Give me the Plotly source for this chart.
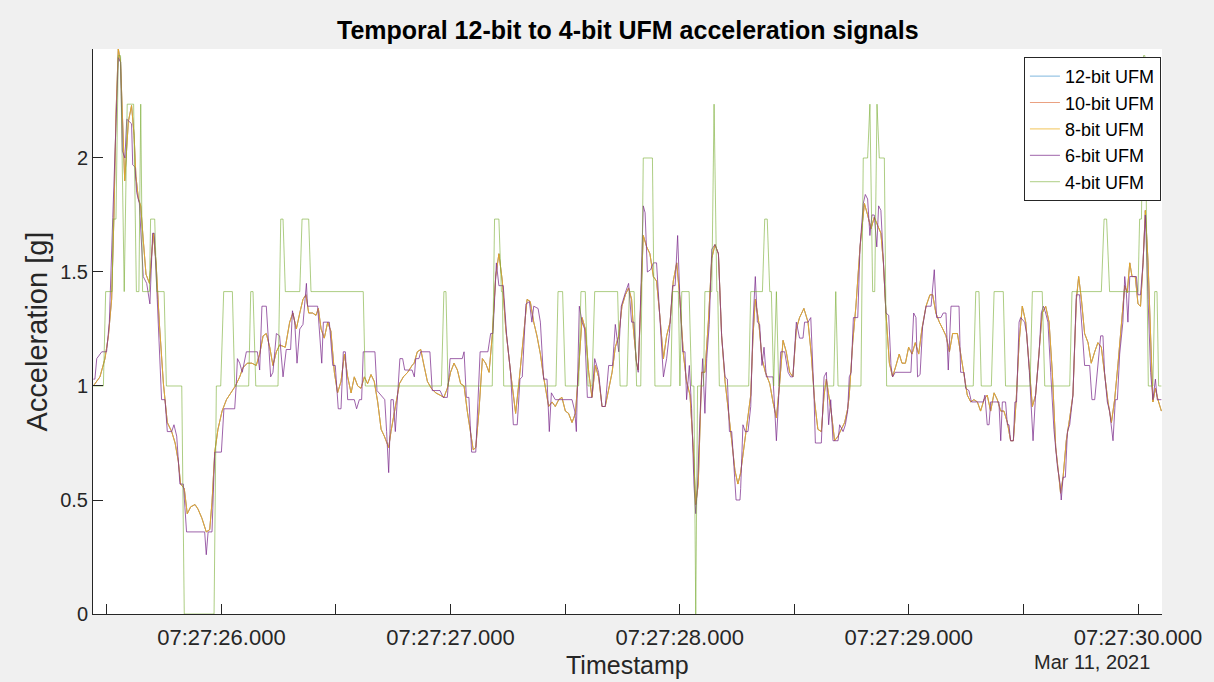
import plotly.graph_objects as go

DATE = "2021-03-11 07:27:"

# ---- 12/10/8-bit UFM (seconds after 07:27:00, acceleration in g) ----
t_hi = [
    25.441, 25.470, 25.492, 25.507, 25.521, 25.531, 25.540, 25.550, 25.560, 25.568, 25.574, 25.578, 25.594, 25.608, 25.619, 25.627, 25.638, 25.648, 25.659, 25.671, 25.686, 25.703, 25.715, 25.729, 25.747, 25.764, 25.783, 25.798, 25.812, 25.822, 25.838, 25.851, 25.866, 25.885,
    25.898, 25.915, 25.934, 25.949, 25.959, 25.971, 25.985, 26.003, 26.022, 26.043, 26.061, 26.080, 26.094, 26.113, 26.133, 26.152, 26.167, 26.182, 26.196, 26.211, 26.225, 26.240, 26.254, 26.279, 26.298, 26.312, 26.327, 26.342, 26.356,
    26.369, 26.381, 26.398, 26.413, 26.423, 26.435, 26.449, 26.464, 26.478, 26.493, 26.507, 26.522, 26.537, 26.551, 26.566, 26.580, 26.595, 26.609, 26.624, 26.638, 26.653, 26.667, 26.682, 26.697, 26.711, 26.730, 26.740, 26.755, 26.777, 26.794, 26.813, 26.832,
    26.841, 26.855, 26.870, 26.884, 26.899, 26.916, 26.935, 26.954, 26.971, 26.986, 27.000, 27.015, 27.030, 27.044, 27.059, 27.073, 27.088, 27.099, 27.110, 27.124, 27.139, 27.153, 27.168, 27.182, 27.197, 27.211, 27.226, 27.241, 27.262, 27.284, 27.299,
    27.312, 27.334, 27.348, 27.363, 27.377, 27.392, 27.406, 27.428, 27.443, 27.457, 27.472, 27.486, 27.501, 27.515, 27.530, 27.545, 27.559, 27.574, 27.588, 27.603, 27.617, 27.632, 27.646, 27.661, 27.675, 27.690, 27.705, 27.719, 27.734, 27.748, 27.763, 27.777,
    27.790, 27.798, 27.812, 27.819, 27.831, 27.841, 27.856, 27.870, 27.885, 27.899, 27.914, 27.929, 27.943, 27.958, 27.972, 27.987, 28.001, 28.016, 28.030, 28.045, 28.059, 28.070, 28.081, 28.096, 28.110, 28.125, 28.140, 28.154, 28.169, 28.183, 28.198, 28.212, 28.227, 28.241,
    28.254, 28.266, 28.281, 28.295, 28.310, 28.320, 28.330, 28.345, 28.359, 28.374, 28.393, 28.407, 28.422, 28.436, 28.451, 28.465, 28.480, 28.494, 28.509, 28.523, 28.542, 28.560, 28.574, 28.589, 28.603, 28.618, 28.630, 28.640, 28.650, 28.662, 28.676, 28.691, 28.705, 28.720,
    28.733, 28.740, 28.755, 28.769, 28.787, 28.806, 28.820, 28.835, 28.849, 28.864, 28.878, 28.889, 28.900, 28.915, 28.929, 28.944, 28.958, 28.970, 28.985, 28.999, 29.014, 29.028, 29.043, 29.057, 29.075, 29.092, 29.104, 29.118, 29.133, 29.148, 29.162, 29.177, 29.191,
    29.212, 29.226, 29.241, 29.255, 29.270, 29.284, 29.299, 29.313, 29.328, 29.342, 29.357, 29.372, 29.386, 29.401, 29.415, 29.430, 29.444, 29.456, 29.468, 29.481, 29.495, 29.510, 29.524, 29.539, 29.553, 29.568, 29.582, 29.597, 29.612, 29.626, 29.641, 29.655,
    29.662, 29.673, 29.687, 29.702, 29.716, 29.731, 29.741, 29.753, 29.767, 29.782, 29.796, 29.811, 29.825, 29.840, 29.854, 29.869, 29.884, 29.898, 29.913, 29.927, 29.942, 29.953, 29.964, 29.974, 29.988, 30.000, 30.011, 30.022, 30.032, 30.044, 30.055, 30.065, 30.076, 30.087, 30.102,
]
ufm12 = [
    1.00, 1.04, 1.12, 1.22, 1.38, 1.74, 2.19, 2.48, 2.42, 2.19, 1.98, 1.90, 2.16, 2.23, 2.10, 1.92, 1.82, 1.79, 1.64, 1.49, 1.45, 1.67, 1.54, 1.28, 1.01, 0.84, 0.80, 0.75, 0.67, 0.57, 0.55, 0.44, 0.47, 0.48,
    0.46, 0.42, 0.36, 0.37, 0.49, 0.71, 0.81, 0.89, 0.94, 0.97, 1.00, 1.04, 1.08, 1.10, 1.10, 1.09, 1.14, 1.22, 1.23, 1.17, 1.09, 1.15, 1.18, 1.17, 1.28, 1.32, 1.25, 1.32, 1.38,
    1.40, 1.32, 1.32, 1.31, 1.34, 1.25, 1.21, 1.28, 1.24, 1.06, 0.97, 1.02, 1.14, 1.04, 0.97, 1.04, 1.00, 0.99, 1.04, 1.01, 1.05, 1.02, 0.93, 0.81, 0.78, 0.73, 0.80, 0.89, 1.01, 1.04, 1.06, 1.09,
    1.10, 1.15, 1.16, 1.09, 1.02, 0.99, 0.97, 0.96, 0.95, 0.99, 1.06, 1.10, 1.07, 1.01, 1.00, 0.89, 0.80, 0.72, 0.73, 0.89, 1.12, 1.10, 1.06, 1.22, 1.48, 1.58, 1.46, 1.25, 1.06, 0.88, 1.02,
    1.15, 1.38, 1.37, 1.28, 1.22, 1.14, 1.04, 0.91, 0.93, 0.91, 0.94, 0.95, 0.89, 0.88, 0.84, 0.88, 1.07, 1.30, 1.25, 1.06, 0.95, 1.09, 1.04, 0.91, 0.91, 0.99, 1.06, 1.17, 1.22, 1.35, 1.40, 1.43,
    1.38, 1.25, 1.10, 1.07, 1.38, 1.66, 1.61, 1.58, 1.48, 1.46, 1.30, 1.12, 1.22, 1.28, 1.46, 1.54, 1.38, 1.14, 1.02, 0.96, 0.73, 0.48, 0.57, 1.06, 1.06, 1.28, 1.56, 1.62, 1.58, 1.22, 1.02, 0.88, 0.76, 0.63,
    0.57, 0.62, 0.73, 0.83, 0.96, 1.22, 1.38, 1.28, 1.12, 1.06, 1.01, 0.93, 0.86, 1.01, 1.20, 1.15, 1.06, 1.04, 1.25, 1.30, 1.34, 1.28, 1.14, 0.93, 0.81, 0.80, 0.96, 1.03, 0.97, 0.88, 0.76, 0.78, 0.81, 0.84,
    0.90, 0.96, 1.19, 1.35, 1.61, 1.80, 1.75, 1.69, 1.74, 1.70, 1.67, 1.54, 1.32, 1.10, 1.04, 1.09, 1.14, 1.10, 1.10, 1.17, 1.14, 1.19, 1.14, 1.25, 1.35, 1.40, 1.40, 1.32, 1.28, 1.25, 1.22, 1.15, 1.23,
    1.23, 1.14, 1.06, 0.96, 0.93, 0.94, 0.93, 0.89, 0.94, 0.96, 0.89, 0.97, 0.94, 0.89, 0.89, 0.84, 0.76, 0.76, 0.93, 1.19, 1.35, 1.28, 1.10, 0.91, 0.96, 1.15, 1.32, 1.35, 1.28, 1.06, 0.73, 0.60,
    0.53, 0.60, 0.76, 0.86, 0.96, 1.38, 1.48, 1.38, 1.23, 1.19, 1.10, 1.15, 1.19, 1.17, 1.06, 0.93, 0.84, 0.94, 1.10, 1.25, 1.44, 1.41, 1.54, 1.48, 1.48, 1.36, 1.35, 1.54, 1.77, 1.54, 1.22, 0.93, 0.99, 0.94, 0.89,
]
# the 10-bit and 8-bit curves coincide with the 12-bit one at this resolution
ufm10 = list(ufm12)
ufm8 = list(ufm12)

# ---- 6-bit UFM ----
t_6 = [
    25.441, 25.448, 25.456, 25.478, 25.499, 25.511, 25.526, 25.550, 25.560, 25.568, 25.579, 25.587, 25.608, 25.613, 25.623, 25.630, 25.642, 25.659, 25.674, 25.688, 25.700, 25.707, 25.720, 25.739, 25.754, 25.764, 25.783, 25.793, 25.805, 25.819, 25.834, 25.848,
    25.927, 25.934, 25.942, 25.959, 25.971, 26.000, 26.011, 26.058, 26.065, 26.070, 26.080, 26.091, 26.109, 26.157, 26.167, 26.177, 26.196, 26.215, 26.225, 26.240, 26.254, 26.269, 26.283, 26.302, 26.310, 26.320, 26.330, 26.342, 26.356, 26.371,
    26.376, 26.420, 26.438, 26.445, 26.471, 26.486, 26.497, 26.510, 26.522, 26.532, 26.541, 26.551, 26.580, 26.590, 26.602, 26.612, 26.619, 26.670, 26.679, 26.713, 26.721, 26.730, 26.740, 26.750, 26.759, 26.769, 26.779, 26.791, 26.800, 26.832,
    26.842, 26.848, 26.862, 26.870, 26.910, 26.920, 26.954, 26.968, 26.986, 26.998, 27.051, 27.059, 27.069, 27.080, 27.092, 27.110, 27.129, 27.163, 27.175, 27.185, 27.200, 27.211, 27.230, 27.245, 27.262, 27.274, 27.291, 27.303,
    27.313, 27.329, 27.344, 27.355, 27.363, 27.382, 27.392, 27.406, 27.421, 27.431, 27.440, 27.457, 27.530, 27.542, 27.549, 27.562, 27.574, 27.585, 27.597, 27.617, 27.629, 27.646, 27.661, 27.675, 27.690, 27.707, 27.719, 27.734, 27.745, 27.763, 27.777,
    27.790, 27.801, 27.809, 27.819, 27.830, 27.841, 27.849, 27.859, 27.873, 27.885, 27.899, 27.914, 27.929, 27.943, 27.955, 27.969, 27.980, 27.991, 28.001, 28.013, 28.023, 28.030, 28.042, 28.052, 28.062, 28.070, 28.078, 28.089, 28.100, 28.110, 28.118, 28.129, 28.140, 28.154, 28.169, 28.183, 28.198, 28.208, 28.217, 28.227, 28.237, 28.246,
    28.263, 28.266, 28.276, 28.286, 28.298, 28.310, 28.320, 28.330, 28.339, 28.349, 28.359, 28.368, 28.378, 28.407, 28.414, 28.422, 28.429, 28.441, 28.458, 28.473, 28.484, 28.494, 28.509, 28.523, 28.538, 28.545, 28.560, 28.572, 28.586, 28.592, 28.618, 28.630, 28.640, 28.650, 28.659, 28.669, 28.691, 28.698, 28.713, 28.723,
    28.733, 28.740, 28.748, 28.758, 28.777, 28.787, 28.801, 28.810, 28.820, 28.830, 28.839, 28.849, 28.860, 28.868, 28.878, 28.889, 28.900, 28.912, 28.922, 28.929, 28.941, 29.009, 29.021, 29.031, 29.038, 29.049, 29.060, 29.075, 29.097, 29.111, 29.121, 29.140, 29.150, 29.162, 29.172, 29.184,
    29.219, 29.226, 29.241, 29.248, 29.262, 29.273, 29.325, 29.332, 29.342, 29.350, 29.357, 29.393, 29.401, 29.408, 29.422, 29.430, 29.437, 29.444, 29.456, 29.463, 29.470, 29.481, 29.488, 29.505, 29.514, 29.526, 29.532, 29.542, 29.553, 29.568, 29.578, 29.587, 29.597, 29.607, 29.619, 29.633, 29.648, 29.660,
    29.665, 29.673, 29.683, 29.692, 29.702, 29.716, 29.731, 29.745, 29.756, 29.767, 29.789, 29.799, 29.811, 29.825, 29.837, 29.847, 29.854, 29.866, 29.876, 29.891, 29.901, 29.910, 29.920, 29.934, 29.942, 29.949, 29.956, 29.964, 29.993, 30.000, 30.011, 30.022, 30.032, 30.044, 30.055, 30.065, 30.076, 30.084, 30.102,
]
ufm6 = [
    1.03, 1.03, 1.12, 1.15, 1.15, 1.28, 1.74, 2.44, 2.42, 2.03, 2.00, 2.17, 2.15, 1.97, 1.96, 1.85, 1.80, 1.48, 1.45, 1.36, 1.67, 1.67, 1.38, 0.94, 0.94, 0.80, 0.80, 0.83, 0.78, 0.57, 0.57, 0.36,
    0.36, 0.26, 0.36, 0.36, 0.71, 0.71, 0.90, 0.90, 1.01, 1.12, 1.10, 1.06, 1.15, 1.15, 1.07, 1.35, 1.35, 1.04, 1.06, 1.23, 1.22, 1.04, 1.16, 1.16, 1.33, 1.28, 1.10, 1.25, 1.27, 1.45,
    1.35, 1.35, 1.10, 1.28, 1.28, 1.09, 1.09, 0.90, 0.90, 1.15, 1.15, 0.94, 0.94, 0.90, 0.94, 0.94, 1.15, 1.15, 0.98, 0.94, 0.80, 0.62, 0.94, 0.94, 0.80, 0.94, 1.12, 1.12, 1.07, 1.07,
    1.04, 1.12, 1.12, 1.15, 1.15, 0.98, 0.98, 0.95, 0.95, 1.12, 1.12, 1.15, 0.95, 0.95, 0.71, 0.71, 1.15, 1.15, 1.23, 1.23, 1.54, 1.44, 1.44, 1.22, 1.06, 0.83, 0.83, 1.03,
    1.04, 1.36, 1.37, 1.28, 1.35, 1.34, 1.28, 1.03, 1.03, 0.80, 0.97, 0.94, 0.94, 0.89, 0.80, 1.35, 1.28, 1.25, 0.95, 0.95, 1.12, 1.06, 0.91, 0.91, 1.09, 1.09, 1.27, 1.15, 1.35, 1.41, 1.45,
    1.28, 1.28, 1.12, 1.06, 1.40, 1.79, 1.76, 1.50, 1.51, 1.54, 1.54, 1.30, 1.04, 1.12, 1.23, 1.44, 1.44, 1.66, 1.38, 1.15, 1.15, 0.94, 1.09, 0.90, 0.57, 0.44, 0.57, 0.88, 1.12, 0.88, 1.12, 1.27, 1.60, 1.62, 1.58, 1.22, 1.04, 1.03, 0.80, 0.80, 0.62, 0.50,
    0.50, 0.55, 0.83, 0.80, 0.80, 0.91, 1.28, 1.48, 1.28, 1.27, 1.09, 1.17, 1.04, 1.04, 0.91, 0.76, 0.89, 1.15, 1.15, 1.06, 1.04, 1.04, 1.28, 1.21, 1.21, 1.28, 1.28, 1.30, 0.96, 0.75, 0.75, 1.04, 1.06, 0.83, 0.94, 0.76, 0.76, 0.83, 0.80, 0.83,
    0.89, 1.04, 1.06, 1.30, 1.30, 1.61, 1.80, 1.84, 1.82, 1.66, 1.75, 1.75, 1.61, 1.79, 1.77, 1.54, 1.32, 1.31, 1.09, 1.04, 1.06, 1.06, 1.32, 1.30, 1.04, 1.05, 1.26, 1.35, 1.35, 1.51, 1.30, 1.30, 1.32, 1.32, 1.07, 1.35,
    1.35, 1.06, 1.06, 0.99, 0.98, 0.93, 0.93, 0.96, 0.83, 0.83, 0.93, 0.93, 0.76, 0.93, 0.93, 0.83, 0.83, 0.76, 0.76, 0.93, 0.93, 1.28, 1.30, 1.28, 1.23, 1.06, 0.96, 0.76, 0.96, 1.14, 1.32, 1.35, 1.32, 1.28, 1.06, 0.81, 0.65, 0.57,
    0.50, 0.60, 0.60, 0.80, 0.83, 0.96, 1.40, 1.40, 1.25, 1.09, 1.09, 0.94, 0.94, 1.11, 1.22, 1.22, 1.06, 0.93, 0.89, 0.76, 0.94, 0.94, 1.14, 1.28, 1.48, 1.41, 1.28, 1.48, 1.48, 1.40, 1.40, 1.54, 1.75, 1.38, 1.06, 0.94, 1.03, 0.94, 0.94,
]

# ---- 4-bit UFM ----
t_4 = [
    25.441, 25.485, 25.495, 25.523, 25.528, 25.540, 25.550, 25.560, 25.576, 25.589,
    25.617, 25.629, 25.640, 25.648, 25.656, 25.686, 25.691, 25.709, 25.718, 25.750,
    25.760, 25.827, 25.838, 25.968, 25.978, 25.997, 26.010, 26.048, 26.058, 26.119,
    26.128, 26.138, 26.150, 26.247, 26.259, 26.269, 26.279, 26.342, 26.352, 26.381,
    26.391, 26.619, 26.628, 26.960, 26.971, 26.980, 26.989, 27.182, 27.192, 27.211,
    27.222, 27.226, 27.232, 27.460, 27.469, 27.489, 27.501, 27.559, 27.569, 27.588,
    27.600, 27.617, 27.629, 27.729, 27.740, 27.770, 27.780, 27.801, 27.812, 27.830,
    27.841, 27.881, 27.892, 27.961, 27.969, 27.994, 28.001, 28.009, 28.041, 28.052,
    28.062, 28.070, 28.078, 28.104, 28.110, 28.140, 28.150, 28.162, 28.166, 28.173,
    28.301, 28.310, 28.361, 28.371, 28.382, 28.393, 28.400, 28.410, 28.422, 28.432,
    28.672, 28.681, 28.691, 28.791, 28.801, 28.820, 28.830, 28.842, 28.851, 28.861,
    28.871, 28.893, 28.903, 29.281, 29.292, 29.306, 29.316, 29.360, 29.372, 29.412,
    29.422, 29.529, 29.539, 29.582, 29.593, 29.702, 29.712, 29.840, 29.852, 29.863,
    29.876, 30.000, 30.007, 30.015, 30.024, 30.030, 30.040, 30.045, 30.065, 30.073,
    30.083, 30.090, 30.102,
]
ufm4 = [
    1.0, 1.0, 1.414, 1.414, 1.732, 1.732, 2.449, 2.449, 1.414, 2.236,
    2.236, 1.414, 1.414, 2.236, 1.414, 1.414, 1.732, 1.732, 1.414, 1.414,
    1.0, 1.0, 0.0, 0.0, 1.0, 1.0, 1.414, 1.414, 1.0, 1.0,
    1.414, 1.414, 1.0, 1.0, 1.732, 1.732, 1.414, 1.414, 1.732, 1.732,
    1.414, 1.414, 1.0, 1.0, 1.414, 1.414, 1.0, 1.0, 1.732, 1.732,
    1.414, 1.414, 1.0, 1.0, 1.414, 1.414, 1.0, 1.0, 1.414, 1.414,
    1.0, 1.0, 1.414, 1.414, 1.0, 1.0, 1.414, 1.414, 1.0, 1.0,
    2.0, 2.0, 1.0, 1.0, 1.414, 1.414, 1.0, 1.414, 1.414, 1.0,
    1.0, 0.0, 1.0, 1.0, 1.414, 1.414, 2.236, 1.414, 1.414, 1.0,
    1.0, 1.414, 1.414, 1.732, 1.732, 1.414, 1.414, 1.0, 1.414, 1.0,
    1.0, 1.414, 1.0, 1.0, 2.0, 2.0, 2.236, 1.414, 1.414, 2.236,
    2.0, 2.0, 1.0, 1.0, 1.414, 1.414, 1.0, 1.0, 1.414, 1.414,
    1.0, 1.0, 1.414, 1.414, 1.0, 1.0, 1.414, 1.414, 1.732, 1.732,
    1.414, 1.414, 1.732, 1.732, 2.449, 2.449, 1.414, 1.0, 1.0, 1.414,
    1.414, 1.0, 1.0,
]

series_names = ["12-bit UFM", "10-bit UFM", "8-bit UFM", "6-bit UFM", "4-bit UFM"]
series_colors = ["rgba(0,114,189,0.5)", "rgba(217,83,25,0.55)", "rgba(237,177,32,0.75)",
                 "rgba(126,47,142,0.75)", "rgba(119,172,48,0.6)"]

y_ticks = [0, 0.5, 1, 1.5, 2]
y_ticktext = ["0", "0.5", "1", "1.5", "2"]
x_tick_secs = [25.5, 26.0, 26.5, 27.0, 27.5, 28.0, 28.5, 29.0, 29.5, 30.0]
x_ticktext = ["", "07:27:26.000", "", "07:27:27.000", "", "07:27:28.000", "",
              "07:27:29.000", "", "07:27:30.000"]

for a, b, n in [(t_hi, ufm12, "hi"), (t_6, ufm6, "6"), (t_4, ufm4, "4")]:
    assert len(a) == len(b), (n, len(a), len(b))


def ts(secs):
    return [f"{DATE}{s:06.3f}" for s in secs]


FONT = "Liberation Sans, Arial, Helvetica, sans-serif"

fig = go.Figure()
data = [(t_hi, ufm12), (t_hi, ufm10), (t_hi, ufm8), (t_6, ufm6), (t_4, ufm4)]
for (tt, vv), name, col in zip(data, series_names, series_colors):
    fig.add_trace(go.Scatter(x=ts(tt), y=vv, mode="lines", name=name,
                             line=dict(color=col, width=1)))

fig.update_layout(
    width=1214, height=682,
    margin=dict(l=93, r=52, t=49, b=68),
    paper_bgcolor="#f0f0f0", plot_bgcolor="white",
    font=dict(family=FONT, color="#262626", size=20),
    showlegend=True,
    legend=dict(x=0.999, xanchor="right", y=0.986, yanchor="top",
                bgcolor="white", bordercolor="#262626", borderwidth=1,
                font=dict(family=FONT, size=18, color="black"),
                tracegroupgap=0, itemwidth=30),
    xaxis=dict(
        type="date",
        range=[f"{DATE}25.4397", f"{DATE}30.1047"],
        tickvals=ts(x_tick_secs), ticktext=x_ticktext,
        ticks="inside", ticklen=10, tickcolor="#262626",
        showline=True, linecolor="#262626", linewidth=1,
        showgrid=False, zeroline=False, mirror=False,
        ticklabelstandoff=4,
        tickfont=dict(family=FONT, size=22, color="#262626"),
    ),
    yaxis=dict(
        range=[0, 2.478],
        tickvals=y_ticks, ticktext=y_ticktext,
        ticks="inside", ticklen=10, tickcolor="#262626",
        showline=True, linecolor="#262626", linewidth=1,
        showgrid=False, zeroline=False, mirror=False,
        tickfont=dict(family=FONT, size=20, color="#262626"),
    ),
    annotations=[
        dict(text="<b>Temporal 12-bit to 4-bit UFM acceleration signals</b>",
             xref="paper", yref="paper", x=0.5, y=1.0336, xanchor="center", yanchor="middle",
             showarrow=False, font=dict(family=FONT, size=25, color="black")),
        dict(text="Acceleration [g]", xref="paper", yref="paper", x=-0.0524, y=0.5,
             xanchor="center", yanchor="middle", textangle=-90, showarrow=False,
             font=dict(family=FONT, size=29, color="#262626")),
        dict(text="Timestamp", xref="paper", yref="paper", x=0.5, y=-0.0903,
             xanchor="center", yanchor="middle", showarrow=False,
             font=dict(family=FONT, size=25, color="#262626")),
        dict(text="Mar 11, 2021", xref="paper", yref="paper", x=0.9345, y=-0.085,
             xanchor="center", yanchor="middle", showarrow=False,
             font=dict(family=FONT, size=20, color="#262626")),
    ],
)

fig.write_html("out.html", config={"displayModeBar": False},
               post_script="document.body.style.margin='0';document.body.style.overflow='hidden';")
